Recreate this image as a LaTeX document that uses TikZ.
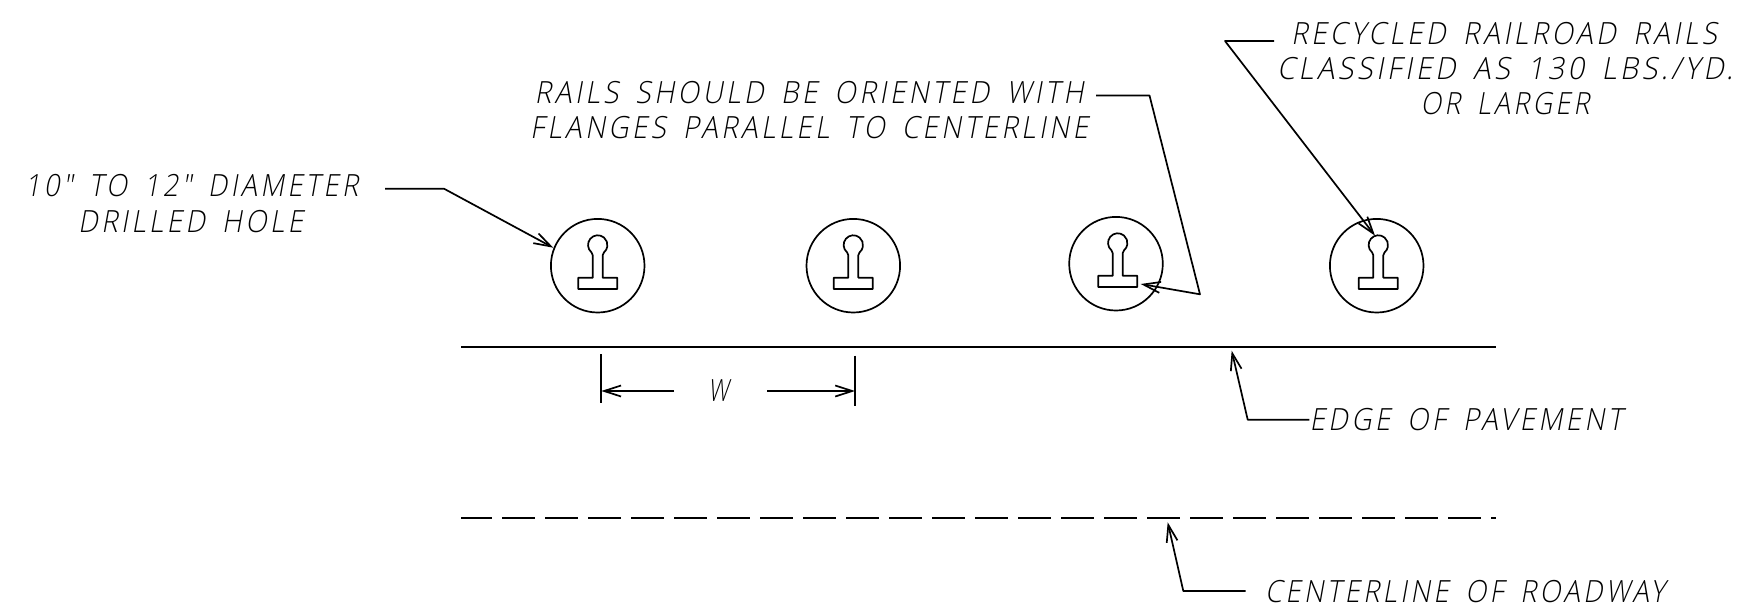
\documentclass[tikz,border=0pt]{standalone}
\usepackage{fontspec}
\usepackage{graphicx}
\usetikzlibrary{arrows.meta}
\newfontfamily\cadfont[FakeSlant=0.2,LetterSpace=12,WordSpace=1.6]{Open Sans Light}
\newcommand{\cadtext}[2]{\resizebox{\dimexpr #1pt/2\relax}{\height}{#2}}
\tikzset{
  x=0.5pt,y=-0.5pt,
  ln/.style={line width=0.85pt,line join=round,draw=black},
  lead/.style={ln,-{Straight Barb[length=8.5pt,width=5.5pt,line width=0.85pt]}},
  hole/.style={circle,ln,inner sep=0pt,minimum size=46.8pt},
  lab/.style={anchor=base west,inner sep=0pt,outer sep=0pt,font=\cadfont\fontsize{15.3}{18}\selectfont},
  rail/.pic={
    \draw[ln] (-6.2,-13.3) arc[start angle=230,end angle=-50,radius=4.85pt]
      -- (5,-10.5) -- (5,12) -- (19.5,12) -- (19.5,23.3) -- (-19.5,23.3) -- (-19.5,12) -- (-5,12) -- (-5,-10.5) -- cycle;
  }
}
\begin{document}
\begin{tikzpicture}
\useasboundingbox (0,0) rectangle (1741,611);
% holes and rails
\node[hole] (h1) at (597.7,265.7) {};
\node[hole] (h2) at (853.3,265.7) {};
\node[hole] (h3) at (1116,263.7) {};
\node[hole] (h4) at (1376.7,265.7) {};
\pic at (597.7,265.7) {rail};
\pic at (853.3,265.7) {rail};
\pic at (1117.7,263.7) {rail};
\pic at (1378.3,265.7) {rail};
% road lines
\coordinate (pa) at (461,346.7);
\coordinate (pb) at (1495.5,346.7);
\coordinate (ca) at (461,518.3);
\coordinate (cb) at (1495.5,518.3);
\draw[ln] (pa) -- (pb);
\draw[ln,dash pattern=on 16.15pt off 5.35pt,dash phase=0.85pt] (ca) -- (cb);
% dimension
\coordinate (dla) at (601.3,354);
\coordinate (dlb) at (601.3,403.3);
\coordinate (dra) at (855,355.7);
\coordinate (drb) at (855,405.7);
\coordinate (dl) at (601.3,391);
\coordinate (dr) at (855,391);
\coordinate (dli) at (674,391);
\coordinate (dri) at (767,391);
\draw[ln] (dla) -- (dlb);
\draw[ln] (dra) -- (drb);
\draw[lead] (dli) -- (dl);
\draw[lead] (dri) -- (dr);
% labels
\node[lab] (t1) at (1291,44.5) {\cadtext{426}{RECYCLED RAILROAD RAILS}};
\node[lab] (t2) at (1277,79.5) {\cadtext{456}{CLASSIFIED AS 130 LBS./YD.}};
\node[lab] (t3) at (1420.5,114.5) {\cadtext{169}{OR LARGER}};
\node[lab] (t4) at (534.5,103) {\cadtext{549}{RAILS SHOULD BE ORIENTED WITH}};
\node[lab] (t5) at (530,138.7) {\cadtext{558}{FLANGES PARALLEL TO CENTERLINE}};
\node[lab] (t6) at (25,196) {\cadtext{333}{10" TO 12" DIAMETER}};
\node[lab] (t7) at (78,232) {\cadtext{225}{DRILLED HOLE}};
\node[lab] (t8) at (1309.5,430.7) {\cadtext{313}{EDGE OF PAVEMENT}};
\node[lab] (t9) at (1265,602) {\cadtext{400}{CENTERLINE OF ROADWAY}};
\node[lab] (t10) at (708,401) {\cadtext{20.7}{W}};
% leaders
\coordinate (l1s) at (385,188.8);
\coordinate (l1c) at (444.2,188.8);
\coordinate (l1t) at (553.3,247.7);
\draw[lead] (l1s) -- (l1c) -- (l1t);
\coordinate (l2s) at (1096,95.5);
\coordinate (l2c) at (1149.5,95.5);
\coordinate (l2d) at (1200,294.3);
\coordinate (l2t) at (1140.7,284);
\draw[lead] (l2s) -- (l2c) -- (l2d) -- (l2t);
\coordinate (l3s) at (1274,41);
\coordinate (l3c) at (1225,41);
\coordinate (l3t) at (1375,235.7);
\draw[lead] (l3s) -- (l3c) -- (l3t);
\coordinate (l4s) at (1309.3,419.7);
\coordinate (l4c) at (1247.7,419.7);
\coordinate (l4t) at (1231.7,350.7);
\draw[lead] (l4s) -- (l4c) -- (l4t);
\coordinate (l5s) at (1245.7,591);
\coordinate (l5c) at (1183.3,591);
\coordinate (l5t) at (1167.7,522.3);
\draw[lead] (l5s) -- (l5c) -- (l5t);
\end{tikzpicture}
\end{document}
